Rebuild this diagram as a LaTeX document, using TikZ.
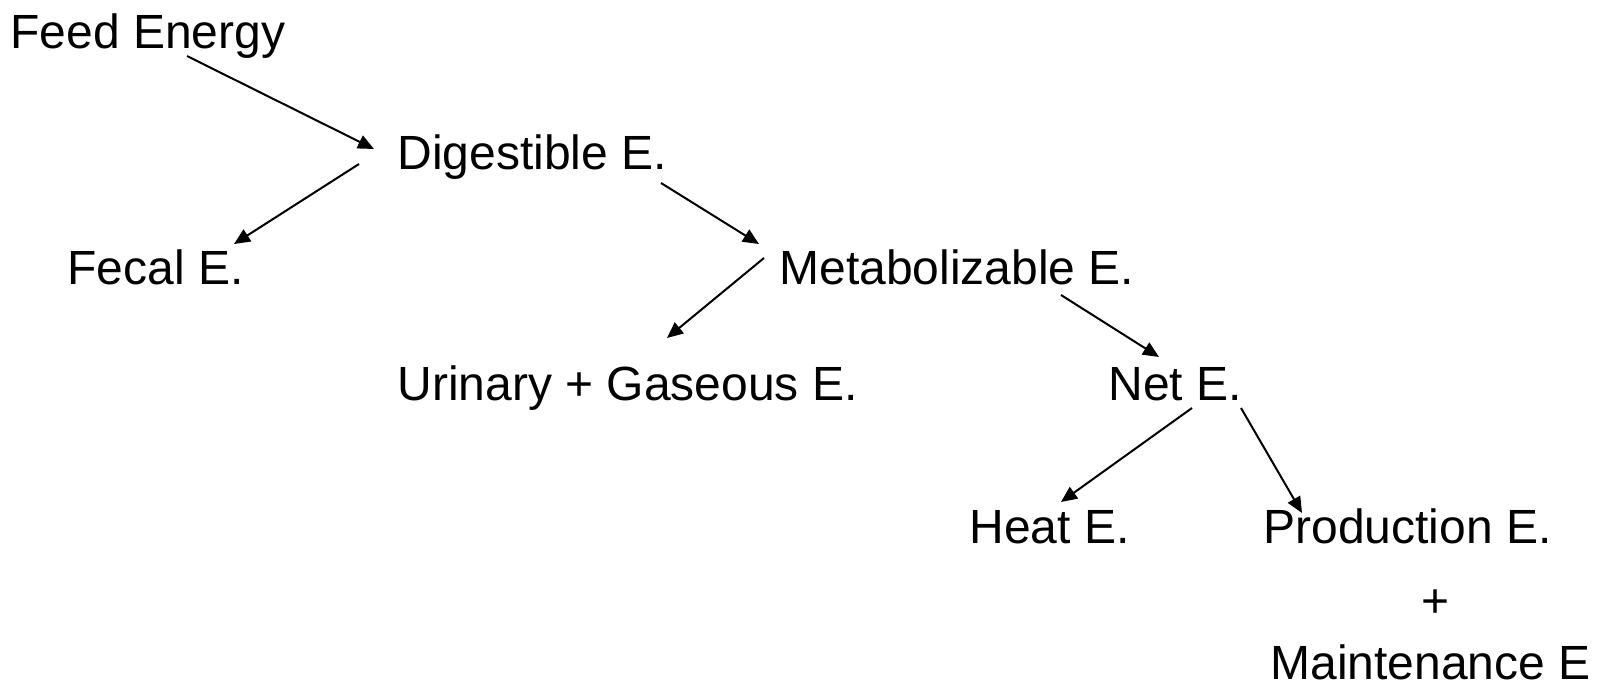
\documentclass[tikz,border=0pt]{standalone}
\usepackage{fontspec}
\setmainfont{Liberation Sans}
\usepackage{tikz}
\usetikzlibrary{arrows.meta}

\begin{document}
\begin{tikzpicture}[x=0.5pt, y=-0.5pt,
    lbl/.style={inner sep=0pt, anchor=base west, font=\fontsize{24}{29}\selectfont},
    arr/.style={line width=1pt, -{Triangle[length=8pt, width=7pt]}}]
    \useasboundingbox (0,0) rectangle (1608,686);

    \node[lbl] (feed) at (10,48) {Feed Energy};
    \node[lbl] (dig) at (397,169) {Digestible E.};
    \node[lbl] (fecal) at (67,284) {Fecal E.};
    \node[lbl] (met) at (779,284) {Metabolizable E.};
    \node[lbl] (urin) at (397,400) {Urinary + Gaseous E.};
    \node[lbl] (net) at (1108,400) {Net E.};
    \node[lbl] (heat) at (969,543) {Heat E.};
    \node[lbl] (prod) at (1263,543) {Production E.};
    \node[lbl, anchor=base] (plus) at (1436,617) {+};
    \node[lbl] (maint) at (1270,679) {Maintenance E};

    \draw[arr] ([shift={(177,8)}]feed.base west) -- ([shift={(-23,-20)}]dig.base west);
    \draw[arr] ([shift={(-38,-5)}]dig.base west) -- ([shift={(167,-40)}]fecal.base west);
    \draw[arr] ([shift={(264,14)}]dig.base west) -- ([shift={(-20,-40)}]met.base west);
    \draw[arr] ([shift={(-15,-26)}]met.base west) -- ([shift={(270,-62)}]urin.base west);
    \draw[arr] ([shift={(282,11)}]met.base west) -- ([shift={(51,-43)}]net.base west);
    \draw[arr] ([shift={(84,8)}]net.base west) -- ([shift={(92,-41)}]heat.base west);
    \draw[arr] ([shift={(133,8)}]net.base west) -- ([shift={(39,-30)}]prod.base west);
\end{tikzpicture}
\end{document}
